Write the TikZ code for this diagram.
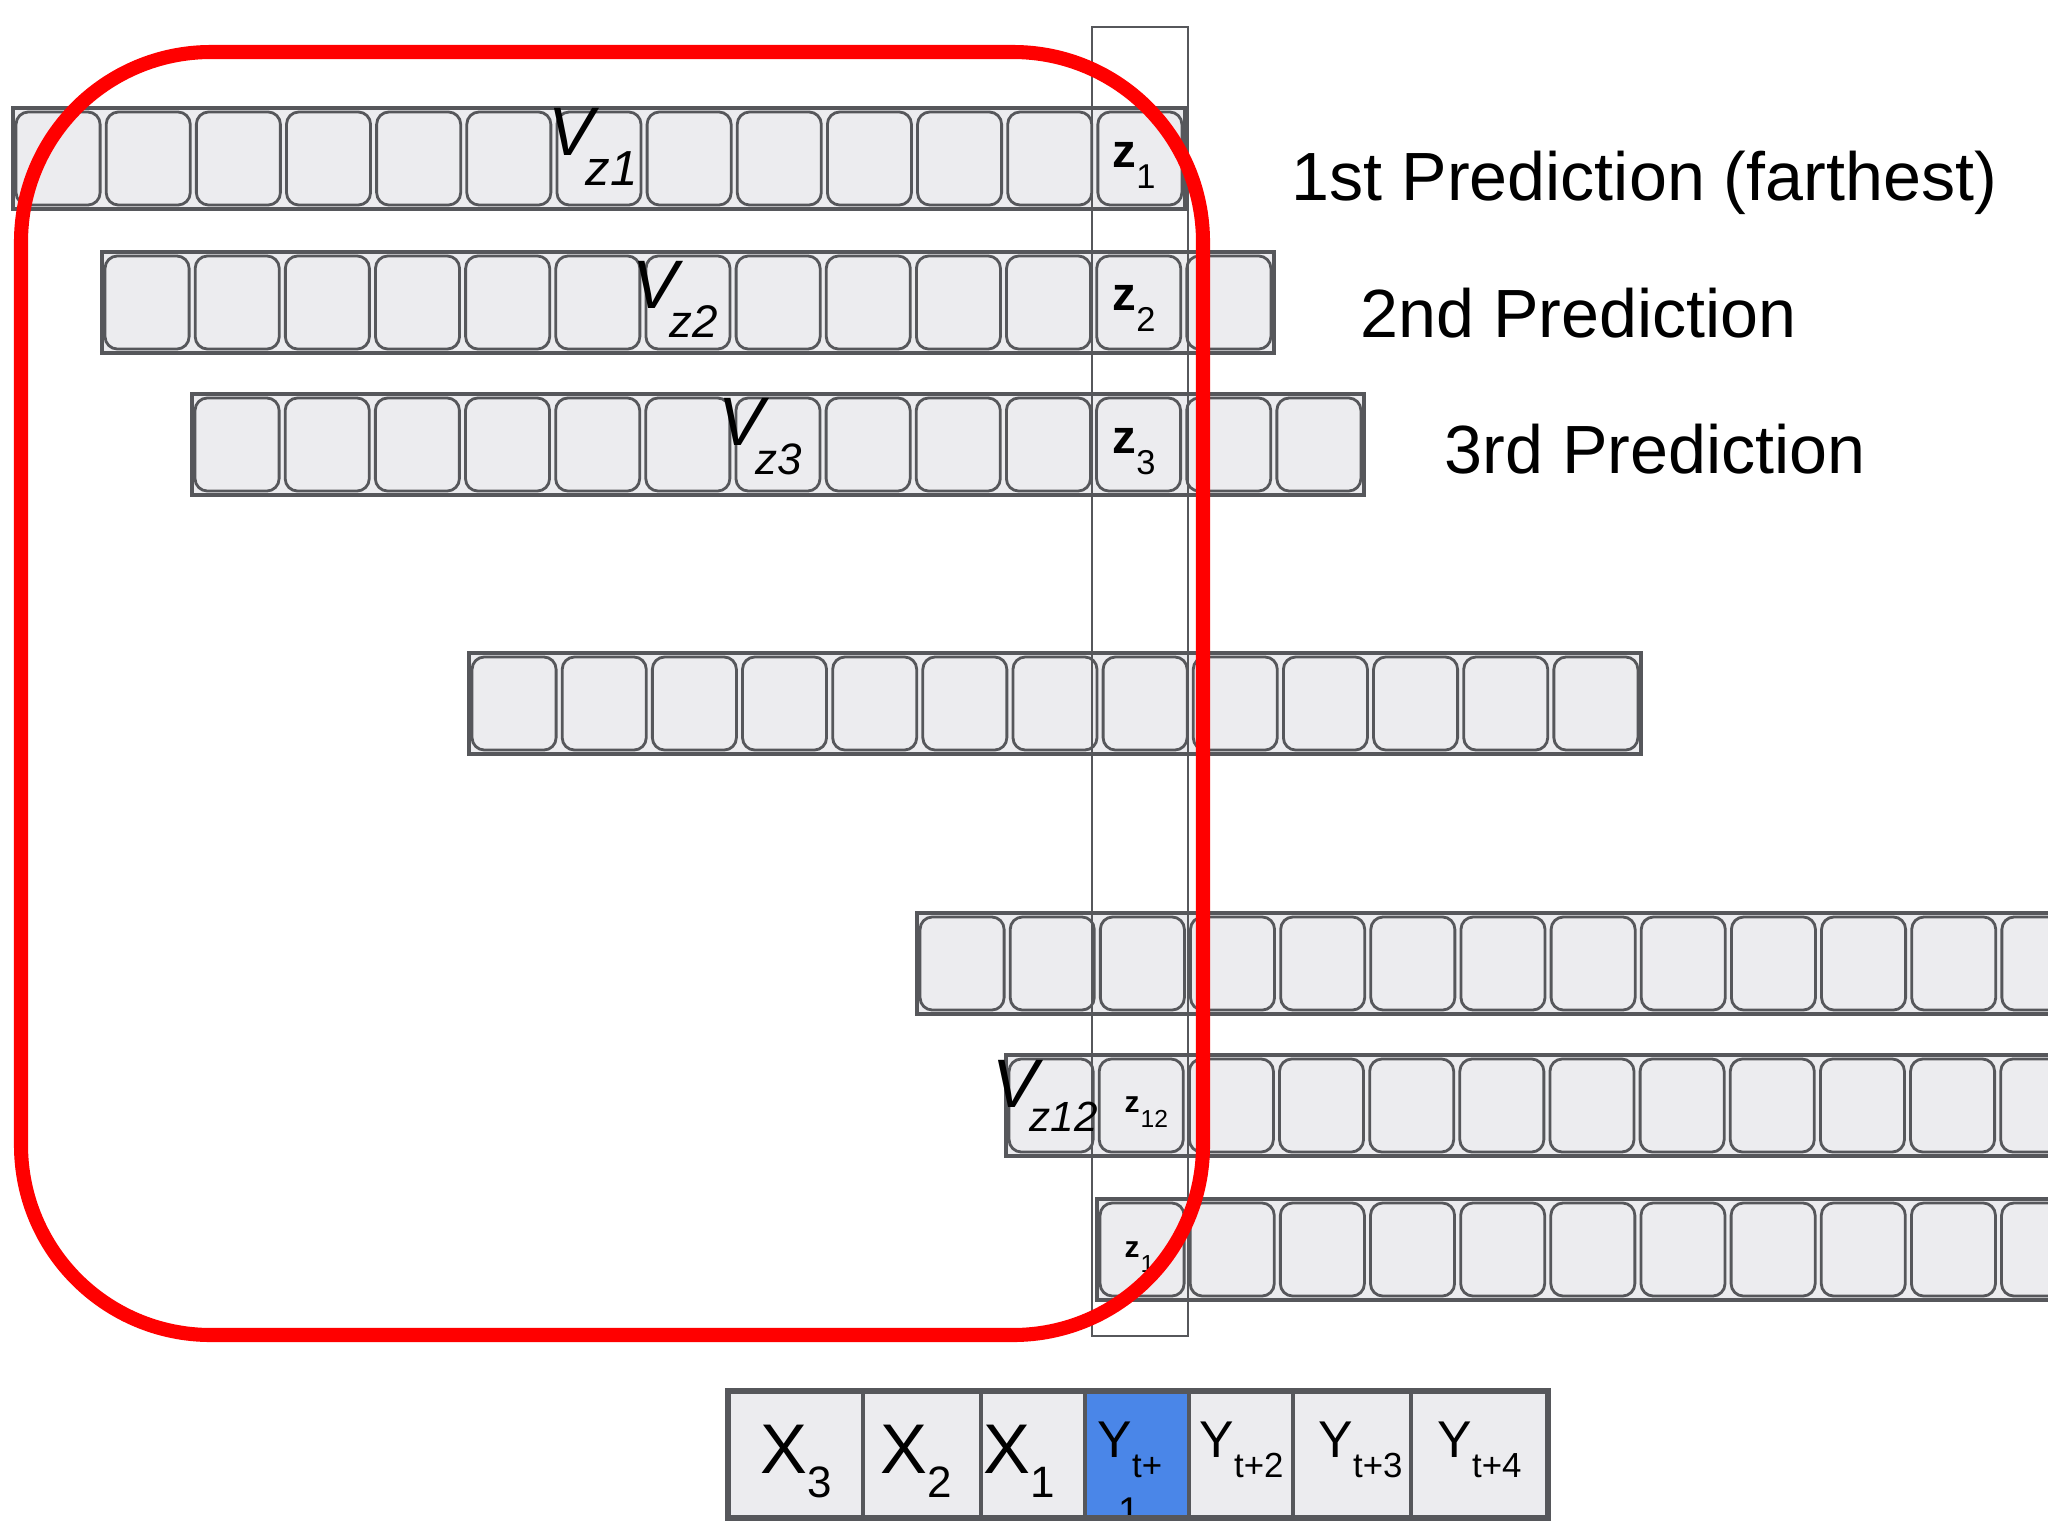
\documentclass[tikz,border=0pt]{standalone}
\usepackage{fontspec}
\setmainfont{Liberation Sans}
\definecolor{cellgray}{HTML}{ECECEF}
\definecolor{edgegray}{HTML}{56575B}
\definecolor{ringred}{HTML}{FF0000}
\definecolor{stepblue}{HTML}{4A86E8}
\newcommand{\vlab}[3]{{\fontsize{19.5}{19.5}\selectfont\itshape V\kern-2.5pt\raisebox{-#3}{\fontsize{#2}{#2}\selectfont #1}}}
\newcommand{\zlab}[1]{{\fontsize{13.5}{13.5}\selectfont\bfseries z\raisebox{-6pt}{\fontsize{9.8}{9.8}\selectfont\mdseries #1}}}
\newcommand{\zsmall}[1]{{\fontsize{8.5}{8.5}\selectfont\bfseries z\kern0.3pt\raisebox{-4.3pt}{\fontsize{7}{7}\selectfont\mdseries #1}}}
\newcommand{\xlab}[1]{{\fontsize{20}{20}\selectfont X\raisebox{-7.1pt}{\fontsize{12.5}{12.5}\selectfont #1}}}
\newcommand{\ylab}[1]{{\fontsize{14.7}{14.7}\selectfont Y\raisebox{-5.7pt}{\fontsize{9.9}{9.9}\selectfont #1}}}

\begin{document}
\begin{tikzpicture}[x=0.01cm,y=-0.01cm]
  \tikzset{rowbox/.style={draw=edgegray,line width=1.1pt,fill=cellgray}}
  \tikzset{cellbox/.style={draw=edgegray,line width=0.8pt,fill=cellgray,rounded corners=3.5pt,
      minimum width=0.84cm,minimum height=0.93cm,inner sep=0pt,outer sep=0pt}}
  \tikzset{slot/.style={draw=edgegray,line width=1pt,fill=cellgray,minimum height=1.27cm,inner sep=0pt,outer sep=0pt}}
  \tikzset{lab/.style={anchor=base west,inner sep=0pt}}
  \tikzset{predtext/.style={anchor=base west,inner sep=0pt,font=\fontsize{19.4}{19.4}\selectfont}}
  \fill[white] (0,0) rectangle (2048,1536);
  \path[use as bounding box] (0,0) rectangle (2048,1536);
  \clip (0,0) rectangle (2048,1536);
  \foreach \r/\xl/\yy in {1/13/108,2/102/252,3/192/394,4/469/653,5/917/913,6/1006/1055,7/1097/1199}{
    \draw[rowbox] (\xl,\yy) rectangle ++(1172,101);
    \foreach \i in {0,...,12}
      \node[cellbox] (c\r-\i) at ({\xl+(\i+0.5)*90.15},{\yy+50.5}) {};
  }
  \draw[edgegray,line width=0.8pt] (1092,27) rectangle (1188,1336);
  \node[lab] (v1) at (548,155) {\vlab{z1}{14}{8.8pt}};
  \node[lab] (v2) at (632,308) {\vlab{z2}{13}{8.5pt}};
  \node[lab] (v3) at (718,445) {\vlab{z3}{12.5}{8.5pt}};
  \node[lab] (v12) at (992,1107) {\vlab{z12}{12}{7pt}};
  \node[lab] (z1) at (1112,167) {\zlab{1}};
  \node[lab] (z2) at (1112,310) {\zlab{2}};
  \node[lab] (z3) at (1112,453) {\zlab{3}};
  \node[lab] (z12) at (1124,1112) {\zsmall{12}};
  \node[lab] (z13) at (1124,1257) {\zsmall{1}};
  \node[predtext] (p1) at (1291,200) {1st Prediction (farthest)};
  \node[predtext] (p2) at (1360,337) {2nd Prediction};
  \node[predtext] (p3) at (1444,473) {3rd Prediction};
  \draw[ringred,line width=4pt,rounded corners=54pt] (21,52) rectangle (1203,1335);
  \foreach \n/\a/\b/\f in {1/728/863/cellgray,2/863/981/cellgray,3/981/1085/cellgray,4/1085/1189/stepblue,
      5/1189/1293/cellgray,6/1293/1411/cellgray,7/1411/1548/cellgray}{
    \pgfmathsetmacro\w{(\b-\a)/100}
    \node[slot,fill=\f,minimum width=\w cm] (s\n) at ({(\a+\b)/2},1454.5) {};
  }
  \node[lab] (x3) at (760,1473) {\xlab{3}};
  \node[lab] (x2) at (880,1473) {\xlab{2}};
  \node[lab] (x1) at (983,1473) {\xlab{1}};
  \node[lab] (y1) at (1097,1457) {\ylab{t+}};
  \begin{scope}
    \clip (s4.north west) rectangle (s4.south east);
    \node[lab] (y1b) at (1118,1524) {\fontsize{11}{11}\selectfont 1};
  \end{scope}
  \node[lab] (y2) at (1199,1457) {\ylab{t+2}};
  \node[lab] (y3) at (1318,1457) {\ylab{t+3}};
  \node[lab] (y4) at (1437,1457) {\ylab{t+4}};
  \draw[edgegray,line width=1.5pt] (s1.north west) rectangle (s7.south east);
\end{tikzpicture}
\end{document}
